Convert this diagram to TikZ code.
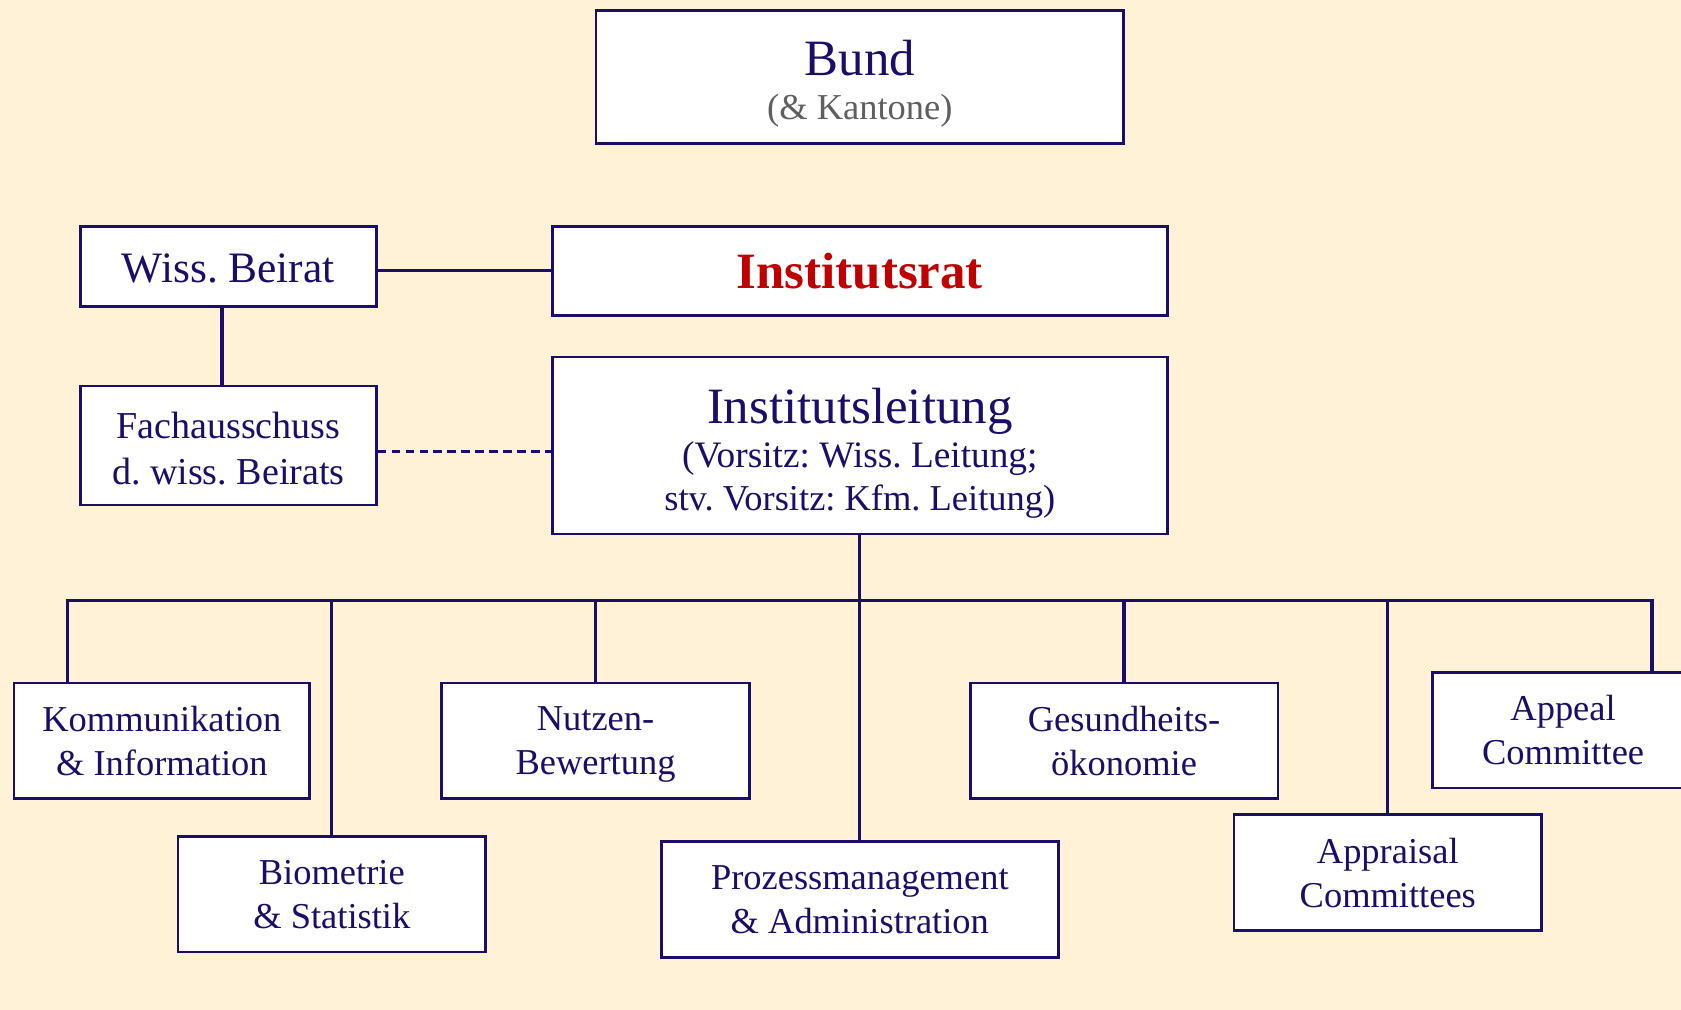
\documentclass[tikz,border=0pt]{standalone}
\usepackage{fontspec}
\setmainfont{Liberation Serif}
\definecolor{navy}{HTML}{1B0E68}
\definecolor{paper}{HTML}{FFF2D7}
\definecolor{ratred}{HTML}{C00000}
\definecolor{subgray}{HTML}{5F5F5F}

\begin{document}
\frenchspacing
\begin{tikzpicture}[x=1pt,y=-1pt,
  unit/.style={draw=navy, line width=2.6pt, fill=white, text=navy,
    align=center, inner sep=0pt, text depth=0pt,
    font=\fontsize{34}{41}\selectfont,
    execute at begin node={\rule{0pt}{30pt}}},
  link/.style={draw=navy, line width=3pt, line join=miter},
  dashlink/.style={link, dash pattern=on 8pt off 5pt}]

\useasboundingbox (0,0) rectangle (1568,942);
\clip (0,0) rectangle (1568,942);
\fill[paper] (0,0) rectangle (1568,942);

% top level
\node[unit, minimum width=492pt, minimum height=124pt] (bund) at (802,72)
  {\fontsize{47.5}{50}\selectfont\rule{0pt}{37pt}Bund\\\fontsize{34}{45}\selectfont\color{subgray}(\& Kantone)};

% supervisory bodies
\node[unit, minimum width=276pt, minimum height=75pt, font=\fontsize{40.5}{44}\selectfont]
  (beirat) at (213,248.5) {Wiss. Beirat};
\node[unit, minimum width=574pt, minimum height=83pt] (rat) at (802,252.5)
  {\fontsize{47.5}{50}\selectfont\bfseries\color{ratred}Institutsrat};
\node[unit, minimum width=276pt, minimum height=111pt, font=\fontsize{35.5}{43}\selectfont]
  (fach) at (213,415.5) {\rule{0pt}{30pt}Fachausschuss\\d. wiss. Beirats};
\node[unit, minimum width=574pt, minimum height=165pt] (leitung) at (802,415.5)
  {\fontsize{47.5}{50}\selectfont\rule{0pt}{40pt}Institutsleitung\\\fontsize{34.8}{46}\selectfont(Vorsitz: Wiss. Leitung;\\[-1pt]stv. Vorsitz: Kfm. Leitung)};

% departments
\node[unit, minimum width=276pt, minimum height=108pt] (komm) at (151,691)
  {Kommunikation\\\& Information};
\node[unit, minimum width=287pt, minimum height=108pt] (bio) at (309.5,834)
  {Biometrie\\\& Statistik};
\node[unit, minimum width=287pt, minimum height=108pt] (nutzen) at (555.5,691)
  {Nutzen-\\Bewertung};
\node[unit, minimum width=370pt, minimum height=108pt] (prozess) at (802,839)
  {Prozessmanagement\\\& Administration};
\node[unit, minimum width=287pt, minimum height=108pt] (gesund) at (1048.5,691)
  {Gesundheits-\\ökonomie};
\node[unit, minimum width=287pt, minimum height=108pt] (apprais) at (1294.5,814)
  {Appraisal\\Committees};
\node[unit, minimum width=244pt, minimum height=108pt] (appeal) at (1458,681)
  {Appeal\\Committee};

% connectors
\draw[link] (rat.west -| beirat.east) -- (rat.west);
\draw[link] ([xshift=-6pt]beirat.south) -- ([xshift=-6pt]fach.north);
\draw[dashlink] ([yshift=-5.5pt]fach.east) -- ([yshift=-5.5pt]fach.east -| leitung.west);

\coordinate (busL) at (63,560);
\coordinate (busR) at (1541,560);
\draw[link] (busL |- komm.north) -- (busL) -- (busR) -- (busR |- appeal.north);
\draw[link] (leitung.south) -- (prozess.north);
\draw[link] (bio.north) -- (bio.north |- busL);
\draw[link] (nutzen.north) -- (nutzen.north |- busL);
\draw[link] (gesund.north) -- (gesund.north |- busL);
\draw[link] (apprais.north) -- (apprais.north |- busL);
\end{tikzpicture}
\end{document}
